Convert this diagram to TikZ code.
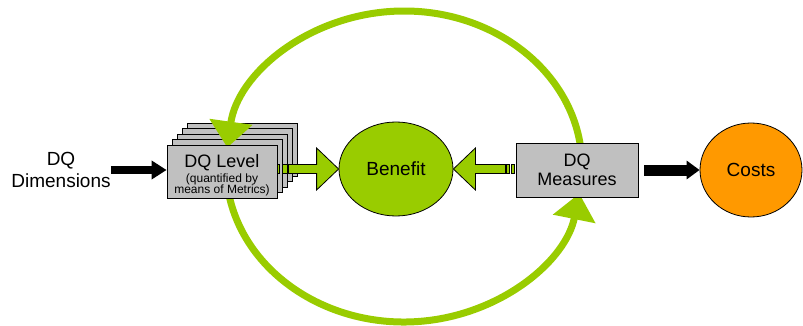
\documentclass[tikz,border=0pt]{standalone}
\usepackage{fontspec}
\setmainfont{Liberation Sans}
\usetikzlibrary{arrows.meta,shapes.geometric,calc}
\definecolor{dqgreen}{HTML}{99CC00}
\definecolor{dqorange}{HTML}{FF9900}
\definecolor{dqgray}{HTML}{C0C0C0}

\begin{document}
\begin{tikzpicture}[x=1pt,y=-1pt,
	box/.style={draw, fill=dqgray, line width=0.8pt, minimum width=110pt,
		minimum height=53pt, inner sep=0pt, align=center},
	oval/.style={ellipse, draw, line width=0.8pt, inner sep=0pt},
	blackarrow/.style={line width=8pt, -{Triangle[width=18pt,length=15pt]}},
	greenblock/.style={draw, fill=dqgreen, line width=0.8pt, line join=miter},
	loop/.style={dqgreen, line width=7pt, -{Triangle[width=42pt,length=26pt]}}]
			\useasboundingbox (0,0) rectangle (803,326);
			% stack of level sheets behind the front one
			\foreach \k in {4,3,2,1}
				\node[box] (lvl\k) at (222+5*\k,171.5-5.5*\k) {};
			% the big cycle
			\coordinate (c) at (404,166.5);
			\draw[loop] ($(c)+(355:178 and 155.5)$)
				arc[start angle=355, end angle=187, x radius=178, y radius=155.5];
			\draw[loop] ($(c)+(172:178 and 155.5)$)
				arc[start angle=172, end angle=10, x radius=178, y radius=155.5];
			% nodes
			\node[inner sep=0pt, align=center, font=\fontsize{19}{22}\selectfont]
				(dim) at (61,170) {DQ\\Dimensions};
			\node[box] (lvl) at (222,171.5)
				{{\fontsize{18}{20}\selectfont\rule{0pt}{20pt}DQ Level}\\[2pt]
				{\fontsize{12}{13}\selectfont (quantified by}\\[-1pt]
				{\fontsize{12}{13}\selectfont means of Metrics)}};
			\node[oval, fill=dqgreen, minimum width=114pt, minimum height=94pt,
				font=\fontsize{19}{22}\selectfont] (ben) at (396,169) {Benefit};
			\node[box, minimum width=122pt, minimum height=54pt,
				font=\fontsize{18}{19.5}\selectfont] (meas) at (577,170) {DQ\\Measures};
			\node[oval, fill=dqorange, minimum width=102pt, minimum height=94pt,
				font=\fontsize{19}{22}\selectfont] (cost) at (751,170) {Costs};
			% black arrows
			\draw[blackarrow] (dim.east) -- (dim.east -| lvl.west);
			\draw[blackarrow, line width=11pt, -{Triangle[width=18pt,length=13pt]},
				shorten <=6pt] (meas.east |- cost.west) -- (cost.west);
			% green block arrows with striped tails
			\draw[greenblock] (ben.west) -- ++(-22,-21) -- ++(0,16.5)
				-- ($(lvl.east |- ben.west)+(11,-4.5)$) -- ++(0,9)
				-- ($(ben.west)+(-22,4.5)$) -- ++(0,16.5) -- cycle;
			\draw[greenblock] ($(lvl.east |- ben.west)+(0,-4.5)$) rectangle ++(2,9);
			\draw[greenblock] ($(lvl.east |- ben.west)+(5,-4.5)$) rectangle ++(5,9);
			\draw[greenblock] (ben.east) -- ++(22,-21) -- ++(0,16.5)
				-- ($(meas.west |- ben.east)+(-10,-4.5)$) -- ++(0,9)
				-- ($(ben.east)+(22,4.5)$) -- ++(0,16.5) -- cycle;
			\draw[greenblock] ($(meas.west |- ben.east)+(-9,-4.5)$) rectangle ++(3,9);
			\draw[greenblock] ($(meas.west |- ben.east)+(-4,-4.5)$) rectangle ++(3,9);
		\end{tikzpicture}
\end{document}
